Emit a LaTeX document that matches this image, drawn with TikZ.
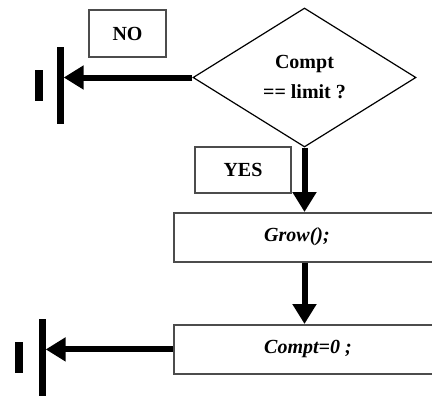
\documentclass[tikz,border=0pt]{standalone}
\usepackage{fontspec}
\setmainfont{Liberation Serif}
\usetikzlibrary{arrows.meta,shapes.geometric}
\begin{document}
\begin{tikzpicture}[x=1pt,y=-1pt,
  box/.style={draw=black!70, line width=1.8pt, rectangle, inner sep=0pt},
  txt/.style={font=\fontsize{20}{30}\selectfont\bfseries},
  itxt/.style={font=\fontsize{20}{30}\selectfont\bfseries\itshape, anchor=west, inner sep=0pt},
  flow/.style={line width=6pt, -{Triangle[length=20pt,width=23pt]}},
  bar/.style={fill=black, rectangle, inner sep=0pt, minimum width=7pt}]
\clip (0,0) rectangle (432,397);
% decision
\node[diamond, draw, line width=1.2pt, minimum width=223pt, minimum height=139pt,
      inner sep=0pt, align=center, txt] (dia) at (304.5,77.5) {Compt\\== limit ?};
% branch labels
\node[box, minimum width=77pt, minimum height=47pt, txt] (no) at (127.5,33.5) {NO};
\node[box, minimum width=96pt, minimum height=46pt, txt] (yes) at (243,170) {YES};
% actions
\node[box, minimum width=290pt, minimum height=49pt, anchor=north west] (grow) at (173,212) {};
\node[itxt] (growtxt) at (264,237) {Grow();};
\node[box, minimum width=290pt, minimum height=49pt, anchor=north west] (compt) at (173,324) {};
\node[itxt] (compttxt) at (264,349) {Compt=0 ;};
% terminal bars
\node[bar, minimum height=77pt] (gnd1) at (60,85.5) {};
\node[bar, minimum width=8pt, minimum height=31pt] (gnd1s) at (38.5,85.5) {};
\node[bar, minimum height=77pt] (gnd2) at (42,357.5) {};
\node[bar, minimum width=8pt, minimum height=31pt] (gnd2s) at (19,357.5) {};
% connectors
\draw[flow] (dia.west) -- (dia.west -| gnd1.east);
\draw[flow] (dia.south) -- (dia.south |- grow.north);
\draw[flow] (dia.south |- grow.south) -- (dia.south |- compt.north);
\draw[flow] (compt.west) -- (compt.west -| gnd2.east);
\end{tikzpicture}
\end{document}
